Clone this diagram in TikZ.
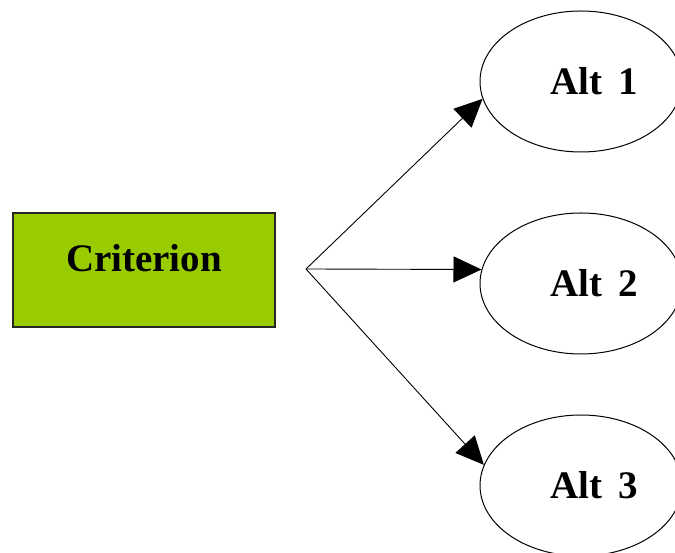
\documentclass[tikz,border=0pt]{standalone}
\usepackage{fontspec}
\setmainfont{Liberation Serif}
\usetikzlibrary{shapes.geometric,arrows.meta}
\definecolor{critgreen}{RGB}{153,204,0}
\tikzset{
  critbox/.style={draw=black!85, line width=1.2pt, fill=critgreen, minimum width=262pt, minimum height=114pt, inner sep=0pt},
  altnode/.style={ellipse, draw, line width=1pt, minimum width=202pt, minimum height=141pt, inner sep=0pt},
  bigtext/.style={font=\fontsize{39}{40}\selectfont\bfseries},
  link/.style={-{Triangle[length=28pt,width=26pt]}, line width=0.9pt}
}

\begin{document}
\begin{tikzpicture}[x=1pt,y=1pt]
        \useasboundingbox (0,0) rectangle (675,553);
        % criterion
        \node[critbox, label={[bigtext, yshift=12pt]center:Criterion}] (crit) at (144,283) {};
        \coordinate (fork) at (306,284);
        % alternatives
        \node[altnode, label={[bigtext, xshift=13pt]center:Alt\hspace{0.4em}1}] (alt1) at (581,471.5) {};
        \node[altnode, label={[bigtext, xshift=13pt]center:Alt\hspace{0.4em}2}] (alt2) at (581,269.5) {};
        \node[altnode, label={[bigtext, xshift=13pt]center:Alt\hspace{0.4em}3}] (alt3) at (581,67.5) {};
        % links
        \draw[link] (fork) -- (alt1.190);
        \draw[link] (fork) -- (alt2.172);
        \draw[link] (fork) -- (alt3.168);
    \end{tikzpicture}
\end{document}
